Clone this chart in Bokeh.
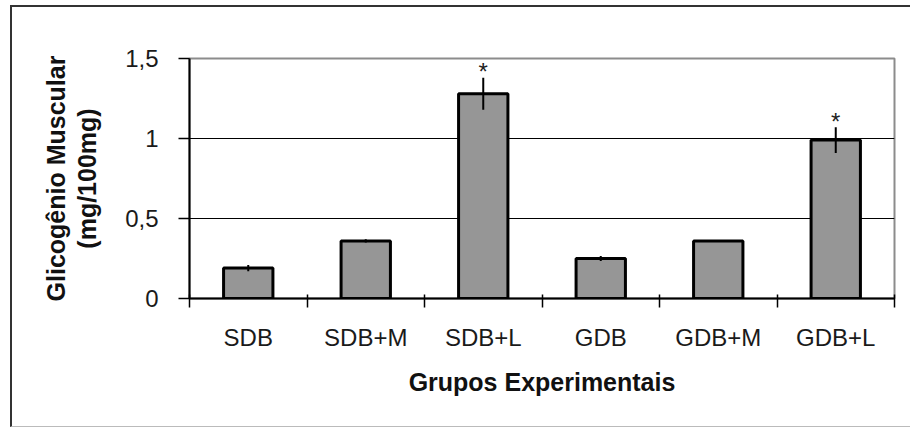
from bokeh.plotting import figure
from bokeh.models import ColumnDataSource, FixedTicker, Range1d
from bokeh.core.properties import value
from bokeh.embed import file_html
from bokeh.resources import INLINE

# ---- data ----
groups = ["SDB", "SDB+M", "SDB+L", "GDB", "GDB+M", "GDB+L"]
means = [0.19, 0.36, 1.28, 0.25, 0.36, 0.99]
errors = [0.02, 0.01, 0.10, 0.015, 0.005, 0.08]
significant = ["", "", "*", "", "", "*"]
y_tick_values = [0, 0.5, 1, 1.5]
y_tick_labels = ["0", "0,5", "1", "1,5"]
y_title_lines = ["Glicogênio Muscular", "(mg/100mg)"]
x_title = "Grupos Experimentais"

n = len(groups)
xs = [i + 0.5 for i in range(n)]
src = ColumnDataSource(dict(
    x=xs, top=means,
    lo=[m - e for m, e in zip(means, errors)],
    hi=[m + e for m, e in zip(means, errors)],
    star=significant,
))

FONT = "Liberation Sans"

p = figure(width=900, height=422, output_backend="svg", toolbar_location=None,
           x_range=Range1d(0, n), y_range=Range1d(0, 1.5),
           min_border_left=177, min_border_right=18, min_border_top=51,
           min_border_bottom=131)
p.styles = {"margin-left": "10px", "margin-top": "5px",
            "border-left": "2px solid #333333", "border-top": "2px solid #333333",
            "border-bottom": "1px solid #bbbbbb"}
p.background_fill_color = "white"
p.border_fill_color = "white"
p.outline_line_color = "#8c8c8c"
p.outline_line_width = 2

# gridlines
p.xgrid.visible = False
p.ygrid.ticker = FixedTicker(ticks=[v for v in y_tick_values if 0 < v < 1.5])
p.ygrid.grid_line_color = "black"
p.ygrid.grid_line_width = 1.2

# bars
p.vbar(x="x", top="top", bottom=0, width=0.42, source=src,
       fill_color="#969696", line_color="black", line_width=3)
# error bars
p.segment(x0="x", y0="lo", x1="x", y1="hi", source=src,
          line_color="black", line_width=2)
# significance stars
p.text(x="x", y="hi", text="star", source=src, text_align="center",
       text_baseline="alphabetic", y_offset=-6, text_font=value(FONT),
       text_font_size="24px", text_color="#222222")

# x axis
xa = p.xaxis[0]
xa.ticker = FixedTicker(ticks=xs, minor_ticks=list(range(n + 1)))
xa.major_label_overrides = {float(x): g for x, g in zip(xs, groups)}
xa.major_tick_line_color = None
xa.major_tick_in = 0
xa.major_tick_out = 0
xa.minor_tick_line_color = "black"
xa.minor_tick_line_width = 1.5
xa.minor_tick_in = 4
xa.minor_tick_out = 9
xa.axis_line_color = "black"
xa.axis_line_width = 2
xa.major_label_text_font = FONT
xa.major_label_text_font_size = "24px"
xa.major_label_text_color = "#1a1a1a"
xa.major_label_standoff = 16
xa.axis_label = x_title
xa.axis_label_text_font = FONT
xa.axis_label_text_font_style = "bold"
xa.axis_label_text_font_size = "25px"
xa.axis_label_text_color = "#111111"
xa.axis_label_standoff = 14

# y axis
ya = p.yaxis[0]
ya.ticker = FixedTicker(ticks=y_tick_values)
ya.major_label_overrides = {v: s for v, s in zip(y_tick_values, y_tick_labels)}
ya.minor_tick_line_color = None
ya.major_tick_in = 0
ya.major_tick_out = 11
ya.major_tick_line_width = 1.5
ya.major_tick_line_color = "black"
ya.axis_line_color = "black"
ya.axis_line_width = 2
ya.major_label_text_font = FONT
ya.major_label_text_font_size = "24px"
ya.major_label_text_color = "#1a1a1a"
ya.major_label_standoff = 20
# two-line y title as one multi-line axis label
ya.axis_label = "\n".join(y_title_lines)
ya.axis_label_text_font = FONT
ya.axis_label_text_font_style = "bold"
ya.axis_label_text_font_size = "25px"
ya.axis_label_text_line_height = 1.1
ya.axis_label_text_color = "#111111"
ya.axis_label_standoff = 21

open("out.html", "w").write(file_html(p, INLINE))
